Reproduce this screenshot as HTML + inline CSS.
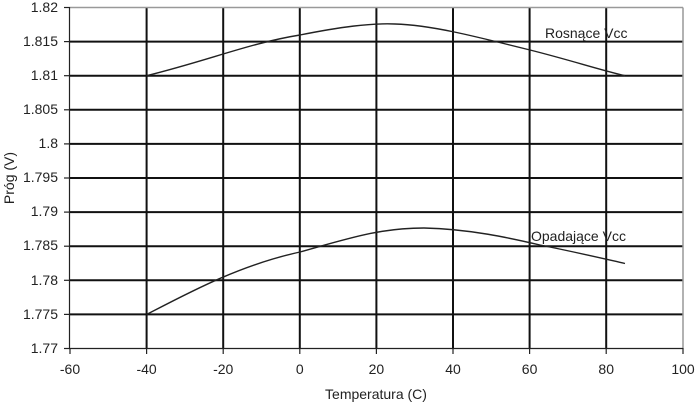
<!DOCTYPE html><html><head><style>body{margin:0;background:#fff}svg text{font-family:"Liberation Sans",sans-serif;font-size:14px;fill:#222}</style></head><body>
<svg width="697" height="405" xmlns="http://www.w3.org/2000/svg">
<g stroke="#111" stroke-width="2">
<line x1="70" y1="41.6" x2="683" y2="41.6"/><line x1="70" y1="75.7" x2="683" y2="75.7"/><line x1="70" y1="109.8" x2="683" y2="109.8"/><line x1="70" y1="143.9" x2="683" y2="143.9"/><line x1="70" y1="178" x2="683" y2="178"/><line x1="70" y1="212.1" x2="683" y2="212.1"/><line x1="70" y1="246.2" x2="683" y2="246.2"/><line x1="70" y1="280.3" x2="683" y2="280.3"/><line x1="70" y1="314.4" x2="683" y2="314.4"/>
<line x1="146.6" y1="7.5" x2="146.6" y2="348.5"/><line x1="223.2" y1="7.5" x2="223.2" y2="348.5"/><line x1="299.8" y1="7.5" x2="299.8" y2="348.5"/><line x1="376.4" y1="7.5" x2="376.4" y2="348.5"/><line x1="453" y1="7.5" x2="453" y2="348.5"/><line x1="529.6" y1="7.5" x2="529.6" y2="348.5"/><line x1="606.2" y1="7.5" x2="606.2" y2="348.5"/>
</g>
<g stroke="#999" stroke-width="1.5"><line x1="70" y1="7.5" x2="683" y2="7.5"/><line x1="683" y1="7.5" x2="683" y2="348.5"/></g>
<g stroke="#222" stroke-width="1.2"><line x1="69.5" y1="7" x2="69.5" y2="349"/><line x1="69" y1="348.5" x2="683" y2="348.5"/>
<line x1="64" y1="7.5" x2="70" y2="7.5"/><line x1="64" y1="41.6" x2="70" y2="41.6"/><line x1="64" y1="75.7" x2="70" y2="75.7"/><line x1="64" y1="109.8" x2="70" y2="109.8"/><line x1="64" y1="143.9" x2="70" y2="143.9"/><line x1="64" y1="178" x2="70" y2="178"/><line x1="64" y1="212.1" x2="70" y2="212.1"/><line x1="64" y1="246.2" x2="70" y2="246.2"/><line x1="64" y1="280.3" x2="70" y2="280.3"/><line x1="64" y1="314.4" x2="70" y2="314.4"/><line x1="64" y1="348.5" x2="70" y2="348.5"/>
<line x1="70" y1="348" x2="70" y2="354"/><line x1="146.6" y1="348" x2="146.6" y2="354"/><line x1="223.2" y1="348" x2="223.2" y2="354"/><line x1="299.8" y1="348" x2="299.8" y2="354"/><line x1="376.4" y1="348" x2="376.4" y2="354"/><line x1="453" y1="348" x2="453" y2="354"/><line x1="529.6" y1="348" x2="529.6" y2="354"/><line x1="606.2" y1="348" x2="606.2" y2="354"/><line x1="683" y1="348" x2="683" y2="354"/></g>
<g fill="none" stroke="#222" stroke-width="1.4">
<path d="M146.6,75.7 C210,60 250,43 300,35 C340,27 370,23 395,24 C430,25 470,35 530,50 C570,60 600,70 625,75.7"/>
<path d="M146.6,314.5 C190,292 240,265 300,252 C350,238 380,228 424,228 C470,229 510,238 540,245 C580,253 605,259 625,263.5"/>
</g>
<g text-anchor="end"><text x="58" y="12">1.82</text><text x="58" y="46">1.815</text><text x="58" y="80">1.81</text><text x="58" y="114">1.805</text><text x="58" y="148">1.8</text><text x="58" y="182">1.795</text><text x="58" y="216">1.79</text><text x="58" y="250">1.785</text><text x="58" y="285">1.78</text><text x="58" y="319">1.775</text><text x="58" y="353">1.77</text></g>
<g text-anchor="middle"><text x="70" y="374">-60</text><text x="146.6" y="374">-40</text><text x="223.2" y="374">-20</text><text x="299.8" y="374">0</text><text x="376.4" y="374">20</text><text x="453" y="374">40</text><text x="529.6" y="374">60</text><text x="606.2" y="374">80</text><text x="683" y="374">100</text>
<text x="376" y="399">Temperatura (C)</text></g>
<text x="545" y="38">Rosnące Vcc</text><text x="531" y="241">Opadające Vcc</text>
<text transform="translate(14,178) rotate(-90)" text-anchor="middle">Próg (V)</text>
</svg></body></html>
